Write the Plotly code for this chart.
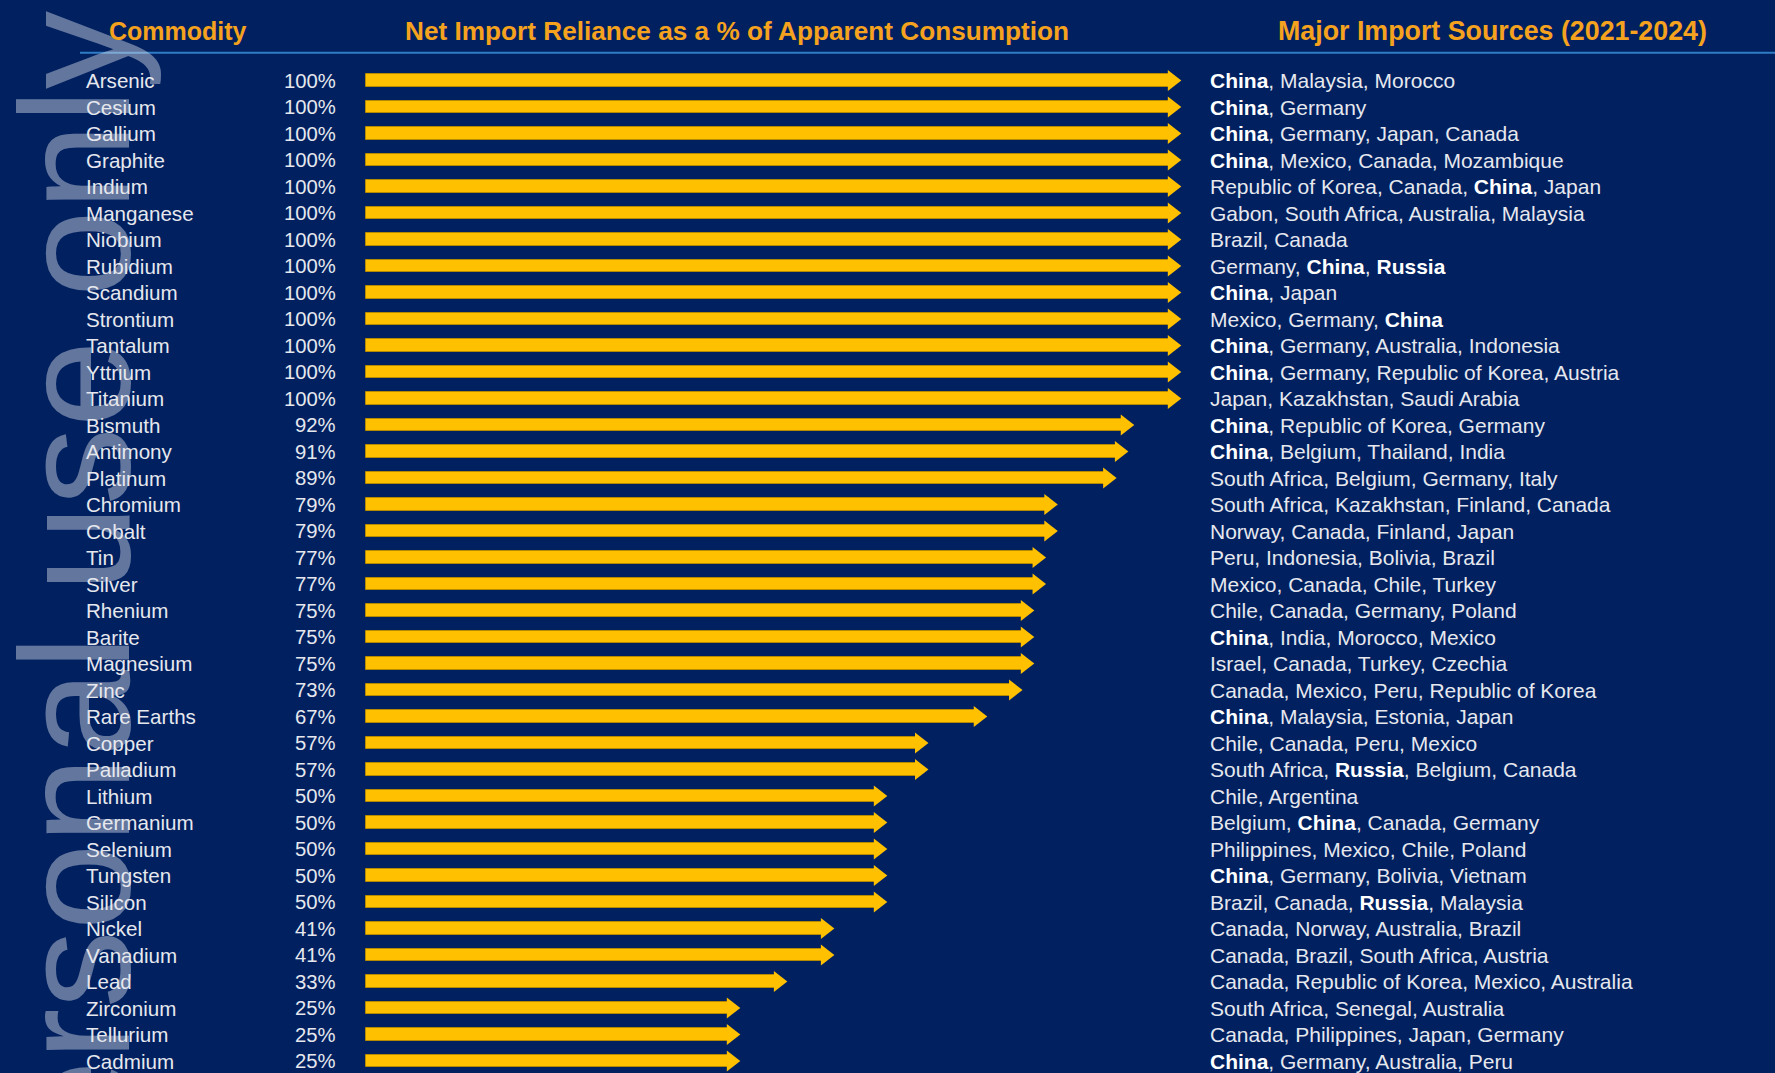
import math
import plotly.graph_objects as go

# ---------------- data ----------------
commodities = [
    "Arsenic", "Cesium", "Gallium", "Graphite", "Indium", "Manganese", "Niobium",
    "Rubidium", "Scandium", "Strontium", "Tantalum", "Yttrium", "Titanium",
    "Bismuth", "Antimony", "Platinum", "Chromium", "Cobalt", "Tin", "Silver",
    "Rhenium", "Barite", "Magnesium", "Zinc", "Rare Earths", "Copper", "Palladium",
    "Lithium", "Germanium", "Selenium", "Tungsten", "Silicon", "Nickel", "Vanadium",
    "Lead", "Zirconium", "Tellurium", "Cadmium",
]
reliance = [
    100, 100, 100, 100, 100, 100, 100,
    100, 100, 100, 100, 100, 100,
    92, 91, 89, 79, 79, 77, 77,
    75, 75, 75, 73, 67, 57, 57,
    50, 50, 50, 50, 50, 41, 41,
    33, 25, 25, 25,
]
sources = [
    "China, Malaysia, Morocco",
    "China, Germany",
    "China, Germany, Japan, Canada",
    "China, Mexico, Canada, Mozambique",
    "Republic of Korea, Canada, China, Japan",
    "Gabon, South Africa, Australia, Malaysia",
    "Brazil, Canada",
    "Germany, China, Russia",
    "China, Japan",
    "Mexico, Germany, China",
    "China, Germany, Australia, Indonesia",
    "China, Germany, Republic of Korea, Austria",
    "Japan, Kazakhstan, Saudi Arabia",
    "China, Republic of Korea, Germany",
    "China, Belgium, Thailand, India",
    "South Africa, Belgium, Germany, Italy",
    "South Africa, Kazakhstan, Finland, Canada",
    "Norway, Canada, Finland, Japan",
    "Peru, Indonesia, Bolivia, Brazil",
    "Mexico, Canada, Chile, Turkey",
    "Chile, Canada, Germany, Poland",
    "China, India, Morocco, Mexico",
    "Israel, Canada, Turkey, Czechia",
    "Canada, Mexico, Peru, Republic of Korea",
    "China, Malaysia, Estonia, Japan",
    "Chile, Canada, Peru, Mexico",
    "South Africa, Russia, Belgium, Canada",
    "Chile, Argentina",
    "Belgium, China, Canada, Germany",
    "Philippines, Mexico, Chile, Poland",
    "China, Germany, Bolivia, Vietnam",
    "Brazil, Canada, Russia, Malaysia",
    "Canada, Norway, Australia, Brazil",
    "Canada, Brazil, South Africa, Austria",
    "Canada, Republic of Korea, Mexico, Australia",
    "South Africa, Senegal, Australia",
    "Canada, Philippines, Japan, Germany",
    "China, Germany, Australia, Peru",
]
highlight_countries = ["China", "Russia"]
headers = ["Commodity", "Net Import Reliance as a % of Apparent Consumption",
           "Major Import Sources (2021-2024)"]
watermark = "Personal use only"

# ---------------- layout geometry / style ----------------
W, H = 1775, 1073
BG = "#002060"
GOLD = "#FFC000"
HEADER_COLOR = "#F5A21E"
TEXT_COLOR = "#E6E8EE"
FONT = "Liberation Sans, Arial, sans-serif"

X0_PX = 594.7        # pixel where 0 % lies
PX_PER_PCT = 5.88    # pixels per percentage point
ROW0_PX = 80.5       # centre of first row
ROW_PX = 26.5        # row pitch
ARROW_START_PX = 365.7

x_min = -X0_PX / PX_PER_PCT
x_max = x_min + W / PX_PER_PCT
y_top = -ROW0_PX / ROW_PX
y_bot = y_top + H / ROW_PX
bar_base = (ARROW_START_PX - X0_PX) / PX_PER_PCT

HEAD_SIZE = 18
tip_off_px = (HEAD_SIZE / 2) * 2 / math.sqrt(3)
head_x = [v - tip_off_px / PX_PER_PCT for v in reliance]


def px_x(px):
    return px / W


def px_y(px):
    return 1 - px / H


fig = go.Figure()

# arrow shafts
fig.add_trace(go.Bar(
    y=commodities,
    x=[hx - bar_base for hx in head_x],
    base=bar_base,
    orientation="h",
    width=0.47,
    marker=dict(color=GOLD, line=dict(color="#B58A00", width=1)),
    hoverinfo="skip",
    showlegend=False,
))
# arrow heads
fig.add_trace(go.Scatter(
    y=commodities,
    x=head_x,
    mode="markers",
    marker=dict(symbol="triangle-right", size=HEAD_SIZE, color=GOLD,
                line=dict(width=0)),
    hoverinfo="skip",
    showlegend=False,
))

annotations = []
# watermark
annotations.append(dict(
    text=watermark, textangle=-90, xref="paper", yref="paper",
    x=px_x(75), y=px_y(9), xanchor="center", yanchor="top", showarrow=False,
    font=dict(family=FONT, size=156, color="rgba(220,225,235,0.45)"),
))
# headers
header_x = [178, 737, 1492]
header_size = [25, 26.2, 26.8]
for htxt, hx, hs in zip(headers, header_x, header_size):
    annotations.append(dict(
        text="<b>" + htxt + "</b>", xref="paper", yref="paper",
        x=px_x(hx), y=px_y(31), xanchor="center", yanchor="middle",
        showarrow=False, font=dict(family=FONT, size=hs, color=HEADER_COLOR),
    ))

for name, v, src in zip(commodities, reliance, sources):
    annotations.append(dict(
        text=name, xref="paper", yref="y", x=px_x(84), y=name,
        xanchor="left", yanchor="middle", showarrow=False,
        font=dict(family=FONT, size=20.6, color=TEXT_COLOR),
    ))
    annotations.append(dict(
        text=f"{v}%", xref="paper", yref="y", x=px_x(338), y=name,
        xanchor="right", yanchor="middle", showarrow=False,
        font=dict(family=FONT, size=20.3, color=TEXT_COLOR),
    ))
    parts = []
    for c in src.split(", "):
        if c in highlight_countries:
            parts.append("<b><span style='color:#FFFFFF'>" + c + "</span></b>")
        else:
            parts.append(c)
    annotations.append(dict(
        text=", ".join(parts), xref="paper", yref="y", x=px_x(1208), y=name,
        xanchor="left", yanchor="middle", showarrow=False,
        font=dict(family=FONT, size=21, color=TEXT_COLOR),
    ))

fig.update_layout(
    width=W, height=H,
    margin=dict(l=0, r=0, t=0, b=0, pad=0),
    paper_bgcolor=BG, plot_bgcolor=BG,
    xaxis=dict(range=[x_min, x_max], visible=False, fixedrange=True),
    yaxis=dict(range=[y_bot, y_top], visible=False, type="category",
               categoryorder="array", categoryarray=commodities, fixedrange=True),
    bargap=0,
    annotations=annotations,
    shapes=[dict(type="line", xref="paper", yref="paper",
                 x0=px_x(80), x1=1, y0=px_y(52.7), y1=px_y(52.7),
                 line=dict(color="#2F7BC4", width=2))],
    font=dict(family=FONT),
)

fig.write_html(
    "out.html",
    config={"displayModeBar": False},
    post_script="document.body.style.margin='0';document.body.style.overflow='hidden';",
)
